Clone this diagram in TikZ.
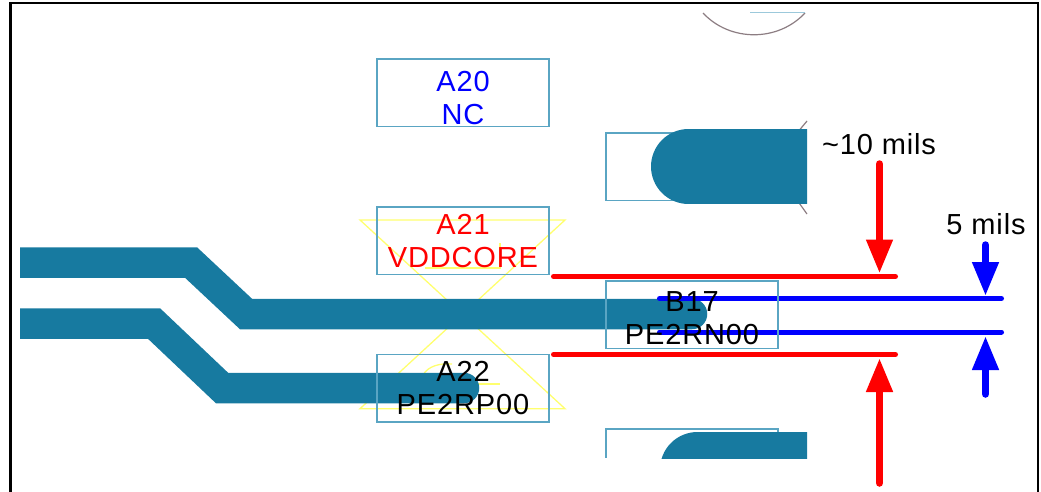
\documentclass[tikz,border=0pt]{standalone}
\usepackage{fontspec}
\setmainfont[LetterSpace=3]{Liberation Sans}
\usetikzlibrary{arrows.meta}
\definecolor{tracecol}{RGB}{23,122,160}
\definecolor{padcol}{RGB}{90,165,195}
\definecolor{arccol}{RGB}{140,125,130}
\definecolor{keepcol}{RGB}{255,255,110}
\newcommand{\padstrut}[1]{\rule{0pt}{#1}}
\tikzset{
  pad/.style={draw=padcol, line width=1.5pt, outer sep=0pt, minimum width=172pt, minimum height=67.5pt, inner sep=0pt, align=center, font=\fontsize{29}{33}\selectfont},
  trace/.style={draw=tracecol, line width=30.5pt, line cap=round, line join=miter},
  keepout/.style={draw=keepcol, line width=1.3pt},
  limit/.style={line width=5pt, line cap=round},
  dimarrow/.style={line width=7.5pt, line cap=round, -{Triangle[length=34pt,width=25pt]}},
  dimlabel/.style={inner sep=0pt, font=\fontsize{29}{33}\selectfont}
}
\begin{document}
\begin{tikzpicture}[x=1pt, y=-1pt]
  \useasboundingbox (0,0) rectangle (1041,492);
  % frame, open at the bottom
  \draw[line width=2.5pt] (10.5,492) -- (10.5,3) -- (1038,3) -- (1038,492);
  % keepout cross
  \draw[keepout] (360,220) -- (565,220) -- (360,408.7) -- (565,408.7) -- cycle;
  \draw[keepout] (500,243) -- (500,268) -- (425,268);
  \draw[keepout] (423,375) .. controls (428,366) and (440,363) .. (452,364);
  \draw[keepout] (460,384) -- (500,384);
  % pads without text
  \node[pad, anchor=north west] (padtop) at (606,133) {};
  \node[pad, anchor=north west] (padbot) at (606,429) {};
  % outline above the top pad
  \draw[arccol, line width=1.2pt] (703,13) .. controls (730,42) and (778,42) .. (805,13);
  \draw[padcol!60!white, line width=1pt] (750,13) -- (805,13);
  \draw[arccol, line width=1.2pt] (797,133) -- (807,121);
  \draw[arccol, line width=1.2pt] (797,200) -- (807,214);
  % white cover under the cut at y=458
  \fill[white] (600,458) rectangle (785,492);
  % copper
  \begin{scope}
    \clip (20,0) rectangle (807,458);
    \draw[trace] (0,262.5) -- (191,262.5) -- (246,314) -- (692,314);
    \draw[trace] (0,323.5) -- (154,323.5) -- (222,388) -- (464,388);
    \draw[tracecol, line width=75pt, line cap=round] (688.5,166.5) -- (900,166.5);
    \draw[tracecol, line width=75pt, line cap=round] (697.5,469.5) -- (900,469.5);
  \end{scope}
  % limit lines
  \draw[limit, red] (553.5,276.5) -- (895.5,276.5);
  \draw[limit, red] (553.5,354.5) -- (895.5,354.5);
  \draw[limit, blue] (659.5,298.5) -- (1001.5,298.5);
  \draw[limit, blue] (659.5,332) -- (1001.5,332);
  % pads with text
  \node[pad, text=blue, anchor=north west] (a20) at (377,59) {\padstrut{31pt}A20\\NC};
  \node[pad, text=red, anchor=north west] (a21) at (377,207) {A21\\VDDCORE};
  \node[pad, anchor=north west] (a22) at (377,354.5) {A22\\PE2RP00};
  \node[pad, anchor=north west] (b17) at (606,281) {\padstrut{26pt}B17\\PE2RN00};
  % dimension arrows
  \coordinate (tenT) at (879.5,164);
  \coordinate (tenB) at (879.5,483);
  \coordinate (fiveT) at (985.5,245);
  \coordinate (fiveB) at (985.5,394);
  \draw[dimarrow, red] (tenT) -- (879.5,273.5);
  \draw[dimarrow, red] (tenB) -- (879.5,358);
  \draw[dimarrow, blue] (fiveT) -- (985.5,296);
  \draw[dimarrow, blue] (fiveB) -- (985.5,336);
  \node[dimlabel] (tenmils) at (879,144) {\textasciitilde10 mils};
  \node[dimlabel] (fivemils) at (986,224) {5 mils};
\end{tikzpicture}
\end{document}
